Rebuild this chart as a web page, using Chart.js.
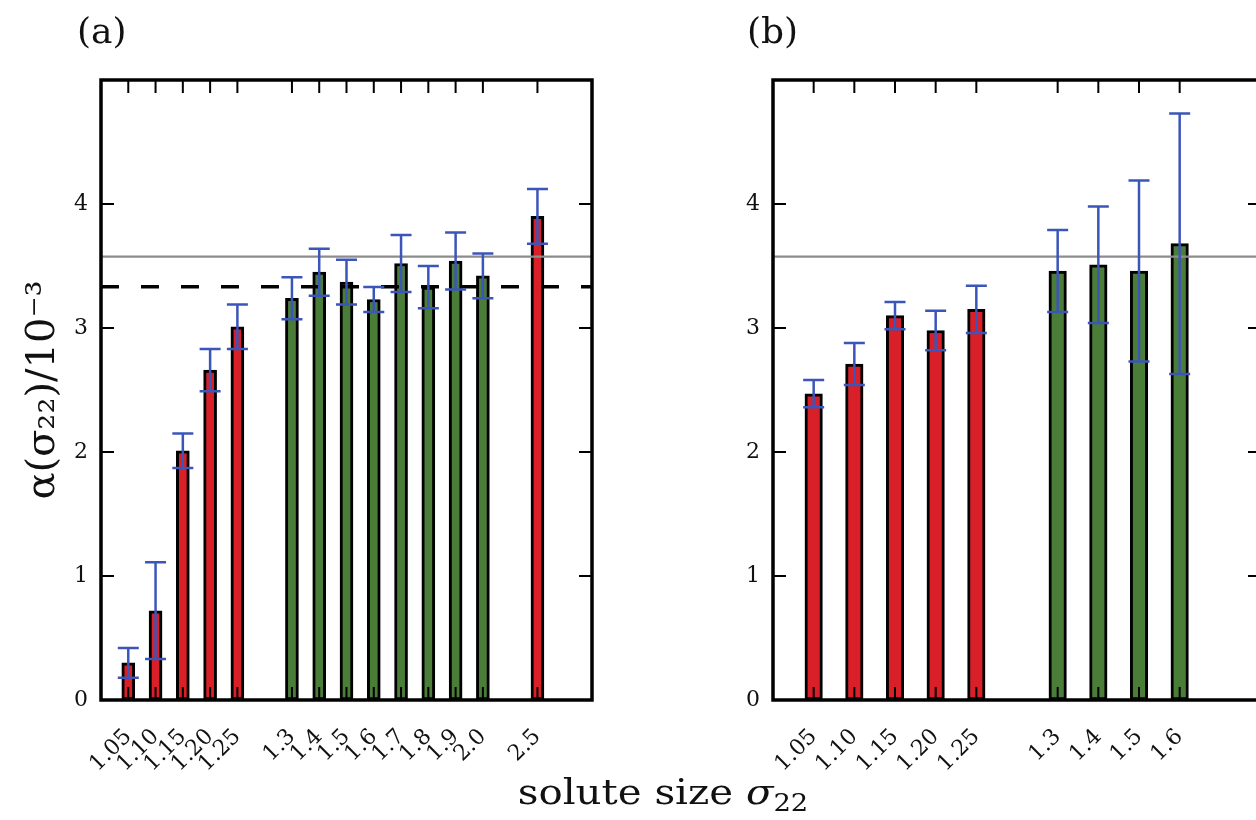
<!DOCTYPE html>
<html><head><meta charset="utf-8">
<script src="https://cdn.jsdelivr.net/npm/chart.js@4.4.1/dist/chart.umd.min.js"></script>
<style>
html,body{margin:0;padding:0;background:#fff;width:1256px;height:820px;overflow:hidden;position:relative;font-family:'DejaVu Serif',serif;}
canvas{position:absolute;top:0;}
#ca{left:0;} #cb{left:672px;}
.lbl{position:absolute;color:#111;white-space:nowrap;line-height:1;}
#la{left:77px;top:13px;font-size:36px;}
#lb{left:747px;top:13px;font-size:36px;}
#xt{left:663px;top:774px;font-size:36px;transform:translateX(-50%) scaleX(1.12);transform-origin:center;}
#xt sub{font-size:0.68em;vertical-align:-0.3em;}
</style></head><body>
<canvas id="ca" width="640" height="820"></canvas>
<canvas id="cb" width="640" height="820"></canvas>
<div class="lbl" id="la">(a)</div>
<div class="lbl" id="lb">(b)</div>
<div class="lbl" id="xt">solute size <i>σ</i><sub>22</sub></div>
<script>
// ---- data ----
const categoriesA = ['1.05','1.10','1.15','1.20','1.25','','1.3','1.4','1.5','1.6','1.7','1.8','1.9','2.0','','2.5'];
const valuesA = [0.30, 0.72, 2.01, 2.66, 3.01, null, 3.24, 3.45, 3.37, 3.23, 3.52, 3.33, 3.54, 3.42, null, 3.90];
const errorsA = [0.12, 0.39, 0.14, 0.17, 0.18, null, 0.17, 0.19, 0.18, 0.10, 0.23, 0.17, 0.23, 0.18, null, 0.22];
const phaseA  = ['R','R','R','R','R', null, 'G','G','G','G','G','G','G','G', null, 'R'];

const categoriesB = ['1.05','1.10','1.15','1.20','1.25','','1.3','1.4','1.5','1.6'];
const valuesB = [2.47, 2.71, 3.10, 2.98, 3.15, null, 3.46, 3.51, 3.46, 3.68];
const errorsB = [0.11, 0.17, 0.11, 0.16, 0.19, null, 0.33, 0.47, 0.73, 1.05];
const phaseB  = ['R','R','R','R','R', null, 'G','G','G','G'];

const yTickValues = [0, 1, 2, 3, 4];
const yMax = 5;
const greyReference = 3.575;   // solid grey line (both panels)
const dashedReferenceA = 3.333; // dashed black line (panel a)

// ---- styles ----
const COLORS = {R: '#d91f27', G: '#4a7d38'};
const ERR = '#3c55b8';
const FONT = 'DejaVu Serif';

const overlay = {
  id: 'overlay',
  afterDatasetsDraw(chart, args, opts) {
    const {ctx, chartArea: a, scales: {y}} = chart;
    ctx.save();
    ctx.beginPath(); ctx.rect(a.left, a.top, a.right - a.left, a.bottom - a.top); ctx.clip();
    if (opts.dashed != null) {
      const py = y.getPixelForValue(opts.dashed);
      ctx.setLineDash([18, 22]); ctx.lineWidth = 3.5; ctx.strokeStyle = '#000';
      ctx.beginPath(); ctx.moveTo(a.left, py); ctx.lineTo(a.right, py); ctx.stroke();
      ctx.setLineDash([]);
    }
    const gy = y.getPixelForValue(opts.grey);
    ctx.lineWidth = 2.2; ctx.strokeStyle = '#8c8c8c';
    ctx.beginPath(); ctx.moveTo(a.left, gy); ctx.lineTo(a.right, gy); ctx.stroke();
    const meta = chart.getDatasetMeta(0);
    const raw = chart.data.datasets[0].data;
    ctx.strokeStyle = ERR; ctx.lineWidth = 2.5;
    meta.data.forEach((bar, i) => {
      const p = raw[i];
      const yt = y.getPixelForValue(p.y + p.err), yb = y.getPixelForValue(p.y - p.err);
      const cx = bar.x, hw = 10.5;
      ctx.beginPath();
      ctx.moveTo(cx, yt); ctx.lineTo(cx, yb);
      ctx.moveTo(cx - hw, yt); ctx.lineTo(cx + hw, yt);
      ctx.moveTo(cx - hw, yb); ctx.lineTo(cx + hw, yb);
      ctx.stroke();
    });
    ctx.restore();
  },
  afterDraw(chart) {
    const {ctx, chartArea: a, scales: {x, y}} = chart;
    ctx.save();
    ctx.strokeStyle = '#000'; ctx.lineWidth = 2;
    const L = 13;
    ctx.beginPath();
    x.ticks.forEach(t => {
      const px = x.getPixelForValue(t.value);
      ctx.moveTo(px, a.bottom); ctx.lineTo(px, a.bottom - L);
      ctx.moveTo(px, a.top); ctx.lineTo(px, a.top + L);
    });
    yTickValues.forEach(v => {
      const py = y.getPixelForValue(v);
      ctx.moveTo(a.left, py); ctx.lineTo(a.left + L, py);
      ctx.moveTo(a.right, py); ctx.lineTo(a.right - L, py);
    });
    ctx.stroke();
    ctx.lineWidth = 3.5;
    ctx.strokeRect(a.left, a.top, a.right - a.left, a.bottom - a.top);
    ctx.restore();
  }
};

function makePanel(id, cats, vals, errs, phase, padRight, dashed, yTitle) {
  const pts = [], bg = [], tickPos = [];
  cats.forEach((c, i) => {
    if (vals[i] == null) return;
    pts.push({x: i, y: vals[i], err: errs[i]});
    bg.push(COLORS[phase[i]]);
    tickPos.push(i);
  });
  const barPx = id === 'ca' ? 13 : 17.5;
  return new Chart(document.getElementById(id), {
    type: 'bar',
    data: {datasets: [{
      data: pts, backgroundColor: bg, borderColor: '#000', borderWidth: 3,
      borderSkipped: false, barThickness: barPx
    }]},
    options: {
      responsive: false, animation: false, devicePixelRatio: 1,
      layout: {padding: {top: 80, right: padRight, left: 0, bottom: 0}},
      plugins: {legend: {display: false}, tooltip: {enabled: false},
        overlay: {grey: greyReference, dashed: dashed}},
      scales: {
        x: {
          type: 'linear', min: -1, max: cats.length + 1, offset: false,
          grid: {display: false, drawTicks: false}, border: {display: false},
          afterBuildTicks: s => { s.ticks = tickPos.map(v => ({value: v})); },
          afterFit: s => { s.height = 120; },
          ticks: {
            autoSkip: false, minRotation: 45, maxRotation: 45, padding: 24,
            color: '#111', font: {family: FONT, size: 22},
            callback: v => cats[v]
          }
        },
        y: {
          min: 0, max: yMax,
          grid: {display: false, drawTicks: false}, border: {display: false},
          afterBuildTicks: s => { s.ticks = yTickValues.map(v => ({value: v})); },
          afterFit: s => { s.width = 101; },
          ticks: {padding: 13, color: '#111', font: {family: FONT, size: 22}},
          title: {display: !!yTitle, text: yTitle || '', color: '#111',
            font: {family: FONT, size: 40}, padding: {top: 20, bottom: 0}}
        }
      }
    },
    plugins: [overlay]
  });
}

makePanel('ca', categoriesA, valuesA, errorsA, phaseA, 48, dashedReferenceA, 'α(σ₂₂)/10⁻³');
makePanel('cb', categoriesB, valuesB, errorsB, phaseB, 51, null, null);
</script>
</body></html>
